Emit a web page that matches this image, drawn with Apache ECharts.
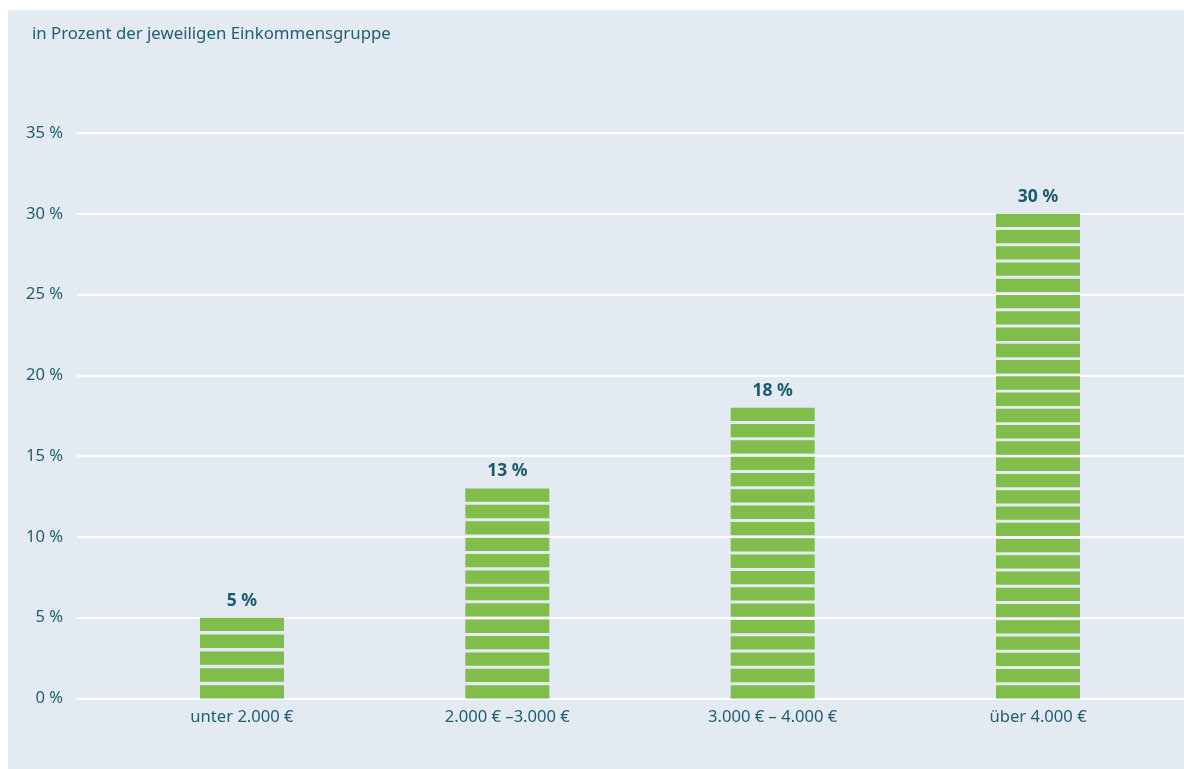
<!DOCTYPE html>
<html>
<head>
<meta charset="utf-8">
<script src="https://cdn.jsdelivr.net/npm/echarts@6/dist/echarts.min.js"></script>
<style>
html,body{margin:0;padding:0;background:#ffffff;}
#main{width:1184px;height:769px;}
</style>
</head>
<body>
<div id="main"></div>
<script>
// Data
const titleText = 'in Prozent der jeweiligen Einkommensgruppe';
const categories = ['unter 2.000 €', '2.000 € –3.000 €', '3.000 € – 4.000 €', 'über 4.000 €'];
const values = [5, 13, 18, 30];
const yTicks = [0, 5, 10, 15, 20, 25, 30, 35];

const textColor = '#1f5e71';
const fontFamily = '"Noto Sans", "Open Sans", sans-serif';

const chart = echarts.init(document.getElementById('main'), null, {renderer: 'canvas'});

const option = {
  backgroundColor: '#ffffff',
  animation: false,
  graphic: [{
    type: 'rect',
    z: -10,
    silent: true,
    shape: {x: 8, y: 10, width: 1176, height: 759},
    style: {fill: '#e3eaf1'}
  }],
  title: {
    text: titleText,
    left: 27,
    top: 26,
    padding: [0, 5],
    textStyle: {color: textColor, fontSize: 16.8, fontWeight: 'normal', fontFamily: fontFamily}
  },
  grid: [
    {left: 77, right: 0, top: 133, bottom: 70.5},
    {left: 109.3, right: 13.3, top: 133, bottom: 70.5}
  ],
  xAxis: [
    {type: 'value', gridIndex: 0, show: false, min: 0, max: 1},
    {
      type: 'category', gridIndex: 1, data: categories,
      axisLine: {show: false}, axisTick: {show: false},
      axisLabel: {color: textColor, fontSize: 16.6, fontFamily: fontFamily, margin: 10}
    }
  ],
  yAxis: [
    {
      type: 'value', gridIndex: 0, min: yTicks[0], max: yTicks[yTicks.length - 1], interval: 5,
      axisLine: {show: false}, axisTick: {show: false},
      axisLabel: {color: textColor, fontSize: 16.6, fontFamily: fontFamily, margin: 14, formatter: '{value} %'},
      splitLine: {show: true, lineStyle: {color: '#ffffff', width: 2}}
    },
    {
      type: 'value', gridIndex: 1, min: yTicks[0], max: yTicks[yTicks.length - 1], interval: 5,
      show: false, splitLine: {show: false}
    }
  ],
  series: [{
    type: 'pictorialBar',
    xAxisIndex: 1,
    yAxisIndex: 1,
    symbol: 'rect',
    symbolSize: [84, 13.3],
    symbolPosition: 'start',
    itemStyle: {color: '#80bd4b'},
    label: {
      show: true, position: 'top', distance: 8,
      color: '#1b5a6c', fontSize: 17.5, fontWeight: 'bold', fontFamily: fontFamily,
      formatter: p => p.value + ' %'
    },
    data: values.map(v => ({value: v, symbolRepeat: v, symbolBoundingData: v}))
  }]
};

chart.setOption(option);
</script>
</body>
</html>
